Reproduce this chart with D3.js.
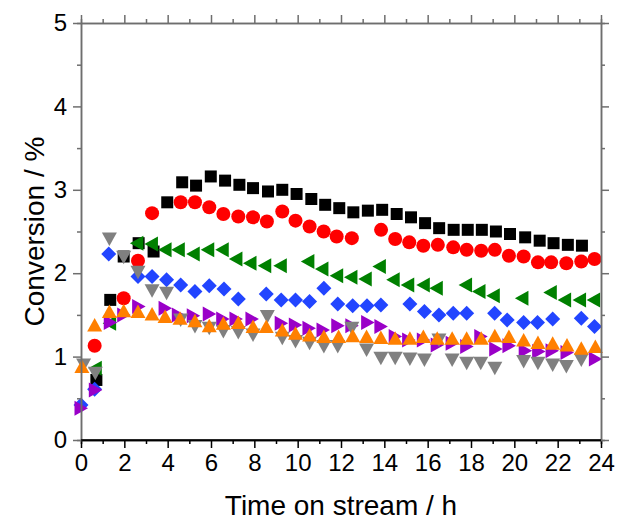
<!DOCTYPE html>
<html>
<head>
<meta charset="utf-8">
<script src="https://cdn.jsdelivr.net/npm/d3@7"></script>
<style>
  body { margin: 0; background: #fff; }
  text { font-family: "Liberation Sans", Arial, sans-serif; fill: #000; }
</style>
</head>
<body>
<svg id="chart" width="618" height="522"></svg>
<script>
// time on stream (h) and conversion (%) per series
const blackT = [0.71, 1.35, 1.97, 2.66, 3.35, 3.98, 4.67, 5.31, 5.99, 6.65, 7.31, 7.94, 8.63, 9.29, 9.95, 10.63, 11.27, 11.92, 12.57, 13.24, 13.9, 14.57, 15.23, 15.88, 16.53, 17.2, 17.85, 18.5, 19.15, 19.8, 20.5, 21.17, 21.81, 22.47, 23.12];
const blackV = [0.72, 1.68, 2.2, 2.36, 2.26, 2.85, 3.09, 3.05, 3.16, 3.11, 3.06, 3.02, 2.98, 3.0, 2.95, 2.89, 2.82, 2.78, 2.73, 2.75, 2.76, 2.71, 2.67, 2.6, 2.54, 2.52, 2.52, 2.52, 2.5, 2.47, 2.43, 2.39, 2.36, 2.34, 2.33];

const redT = [0.63, 1.97, 2.63, 3.28, 4.6, 5.26, 5.92, 6.57, 7.26, 7.94, 8.58, 9.29, 9.9, 10.55, 11.2, 11.8, 12.5, 13.85, 14.5, 15.15, 15.8, 16.47, 17.18, 17.8, 18.47, 19.1, 19.75, 20.43, 21.09, 21.7, 22.4, 23.09, 23.7];
const redV = [1.13, 1.7, 2.15, 2.72, 2.85, 2.85, 2.79, 2.71, 2.68, 2.67, 2.62, 2.74, 2.63, 2.56, 2.5, 2.44, 2.42, 2.52, 2.41, 2.37, 2.33, 2.34, 2.31, 2.28, 2.27, 2.28, 2.21, 2.2, 2.13, 2.13, 2.12, 2.14, 2.17];

const greenT = [0.66, 1.32, 2.58, 3.25, 3.88, 4.49, 5.18, 5.85, 6.52, 7.15, 7.8, 8.48, 9.2, 10.47, 11.12, 11.8, 12.46, 13.12, 13.77, 14.41, 15.08, 15.8, 16.4, 17.75, 18.37, 19.03, 20.35, 21.66, 22.32, 23.01, 23.66];
const greenV = [0.86, 1.4, 2.36, 2.35, 2.28, 2.28, 2.23, 2.28, 2.28, 2.17, 2.12, 2.09, 2.09, 2.14, 2.05, 1.97, 1.95, 1.93, 2.08, 1.92, 1.86, 1.86, 1.82, 1.86, 1.78, 1.73, 1.7, 1.77, 1.68, 1.68, 1.68];

const blueT = [0.0, 0.63, 1.28, 2.63, 3.28, 3.95, 4.6, 5.26, 5.92, 6.6, 7.26, 8.55, 9.24, 9.9, 10.55, 11.21, 11.85, 12.54, 13.2, 13.84, 15.18, 15.85, 16.52, 17.18, 17.8, 19.09, 19.67, 20.43, 21.07, 21.77, 23.09, 23.7];
const blueV = [0.42, 0.61, 2.23, 1.96, 1.96, 1.92, 1.86, 1.78, 1.85, 1.81, 1.69, 1.75, 1.68, 1.68, 1.66, 1.82, 1.63, 1.61, 1.61, 1.62, 1.63, 1.54, 1.5, 1.52, 1.52, 1.52, 1.44, 1.41, 1.41, 1.45, 1.46, 1.36];

const purpleT = [0.0, 0.66, 1.35, 1.97, 2.66, 3.88, 4.49, 5.18, 5.92, 6.54, 7.15, 7.89, 9.24, 9.89, 10.52, 11.17, 11.85, 12.5, 13.23, 13.84, 14.5, 15.12, 15.8, 16.44, 17.13, 17.8, 18.45, 19.14, 19.75, 20.5, 21.12, 21.74, 22.43, 23.74];
const purpleV = [0.38, 0.6, 1.41, 1.5, 1.6, 1.58, 1.5, 1.49, 1.51, 1.45, 1.45, 1.45, 1.4, 1.38, 1.34, 1.32, 1.37, 1.37, 1.41, 1.36, 1.24, 1.2, 1.2, 1.14, 1.16, 1.12, 1.24, 1.09, 1.13, 1.07, 1.06, 1.07, 1.05, 0.97];

const grayT = [0.12, 0.66, 1.31, 1.97, 2.63, 3.28, 3.95, 4.6, 5.26, 5.92, 6.57, 7.26, 7.94, 8.6, 9.29, 9.9, 10.55, 11.21, 11.85, 12.5, 13.18, 13.84, 14.5, 15.18, 15.85, 16.52, 17.13, 17.8, 18.45, 19.1, 20.43, 21.09, 21.77, 22.4, 23.09];
const grayV = [0.9, 0.8, 2.41, 2.19, 2.01, 1.79, 1.76, 1.44, 1.36, 1.34, 1.3, 1.29, 1.26, 1.48, 1.22, 1.18, 1.16, 1.12, 1.12, 1.34, 1.08, 0.98, 0.98, 0.97, 0.96, 1.2, 0.96, 0.92, 0.92, 0.86, 0.94, 0.92, 0.9, 0.88, 0.96];

const orangeT = [0.04, 0.63, 1.31, 1.97, 2.63, 3.28, 3.88, 4.57, 5.26, 5.92, 6.57, 7.26, 7.94, 8.55, 9.29, 9.9, 10.55, 11.21, 11.89, 12.54, 13.18, 13.84, 14.5, 15.18, 15.8, 16.44, 17.13, 17.8, 18.47, 19.1, 19.75, 20.43, 21.09, 21.77, 22.43, 23.09, 23.74];
const orangeV = [0.88, 1.38, 1.54, 1.55, 1.54, 1.51, 1.48, 1.46, 1.43, 1.37, 1.4, 1.41, 1.36, 1.36, 1.32, 1.28, 1.26, 1.24, 1.24, 1.25, 1.24, 1.23, 1.22, 1.22, 1.24, 1.22, 1.22, 1.22, 1.22, 1.25, 1.24, 1.2, 1.17, 1.16, 1.14, 1.1, 1.12];

const xTicks = [0, 2, 4, 6, 8, 10, 12, 14, 16, 18, 20, 22, 24];
const xMinor = [1, 3, 5, 7, 9, 11, 13, 15, 17, 19, 21, 23];
const yTicks = [0, 1, 2, 3, 4, 5];
const yMinor = [0.5, 1.5, 2.5, 3.5, 4.5];

// marker outlines, centred on the point
const shapes = {
  square: 'M-6,-6H6V6H-6Z',
  circle: 'M7,0A7,7 0 1,1 -7,0A7,7 0 1,1 7,0Z',
  left: 'M-7,0L6.5,-7.5V7.5Z',
  diamond: 'M0,-7.5L7.5,0L0,7.5L-7.5,0Z',
  right: 'M7,0L-6.5,-7.5V7.5Z',
  down: 'M0,7L-7.5,-6.5H7.5Z',
  up: 'M0,-7L7.5,6.5H-7.5Z'
};

// drawing order matters: later series sit on top
const series = [
  { t: blackT, v: blackV, color: '#000000', shape: 'square' },
  { t: redT, v: redV, color: '#ff0000', shape: 'circle' },
  { t: greenT, v: greenV, color: '#008000', shape: 'left' },
  { t: blueT, v: blueV, color: '#2245ff', shape: 'diamond' },
  { t: purpleT, v: purpleV, color: '#9a00c8', shape: 'right' },
  { t: grayT, v: grayV, color: '#808080', shape: 'down' },
  { t: orangeT, v: orangeV, color: '#ff8000', shape: 'up' }
];

const svg = d3.select('#chart');
const margin = { top: 23, right: 17, bottom: 82, left: 81 };
const width = 618 - margin.left - margin.right;
const height = 522 - margin.top - margin.bottom;

const x = d3.scaleLinear().domain([0, 24]).range([0, width]);
const y = d3.scaleLinear().domain([0, 5]).range([height, 0]);

const g = svg.append('g').attr('transform', `translate(${margin.left},${margin.top})`);

// markers first, frame drawn over them
series.forEach(s => {
  g.append('g')
    .selectAll('path')
    .data(s.t.map((t, i) => [t, s.v[i]]))
    .join('path')
    .attr('transform', d => `translate(${x(d[0])},${y(d[1])})`)
    .attr('d', shapes[s.shape])
    .attr('fill', s.color);
});

const axisColor = '#6e6e6e';
const font = '"Liberation Sans", Arial, sans-serif';

function styleAxis(sel, color) {
  sel.select('.domain').attr('stroke', color).attr('stroke-width', 1.5);
  sel.selectAll('.tick line').attr('stroke', color).attr('stroke-width', 1.5);
}

const bottomMinor = g.append('g').attr('transform', `translate(0,${height})`)
  .call(d3.axisBottom(x).tickValues(xMinor).tickSize(4).tickFormat(''));
styleAxis(bottomMinor, '#000');
const bottomMajor = g.append('g').attr('transform', `translate(0,${height})`)
  .call(d3.axisBottom(x).tickValues(xTicks).tickSize(8).tickSizeOuter(0).tickPadding(6).tickFormat(d3.format('d')));
styleAxis(bottomMajor, '#000');
bottomMajor.selectAll('text').attr('font-size', 24).attr('font-family', font).attr('fill', '#000');

const topMinor = g.append('g')
  .call(d3.axisTop(x).tickValues(xMinor).tickSize(4).tickFormat(''));
styleAxis(topMinor, axisColor);
const topMajor = g.append('g')
  .call(d3.axisTop(x).tickValues(xTicks).tickSize(8).tickSizeOuter(0).tickFormat(''));
styleAxis(topMajor, axisColor);

const leftMinor = g.append('g')
  .call(d3.axisLeft(y).tickValues(yMinor).tickSize(4).tickFormat(''));
styleAxis(leftMinor, axisColor);
const leftMajor = g.append('g')
  .call(d3.axisLeft(y).tickValues(yTicks).tickSize(8).tickSizeOuter(0).tickPadding(6).tickFormat(d3.format('d')));
styleAxis(leftMajor, axisColor);
leftMajor.selectAll('text').attr('font-size', 24).attr('font-family', font).attr('fill', '#000');

const rightMinor = g.append('g').attr('transform', `translate(${width},0)`)
  .call(d3.axisRight(y).tickValues(yMinor).tickSize(4).tickFormat(''));
styleAxis(rightMinor, axisColor);
const rightMajor = g.append('g').attr('transform', `translate(${width},0)`)
  .call(d3.axisRight(y).tickValues(yTicks).tickSize(8).tickSizeOuter(0).tickFormat(''));
styleAxis(rightMajor, axisColor);

// bottom axis line sits over the side lines
g.append('line')
  .attr('x1', 0).attr('x2', width)
  .attr('y1', height).attr('y2', height)
  .attr('stroke', '#000').attr('stroke-width', 1.5);

g.append('text')
  .attr('x', width / 2)
  .attr('y', height + 75)
  .attr('text-anchor', 'middle')
  .attr('font-size', 28)
  .text('Time on stream / h');

g.append('text')
  .attr('transform', 'rotate(-90)')
  .attr('x', -height / 2)
  .attr('y', -margin.left + 44)
  .attr('text-anchor', 'middle')
  .attr('font-size', 28)
  .text('Conversion / %');
</script>
</body>
</html>
